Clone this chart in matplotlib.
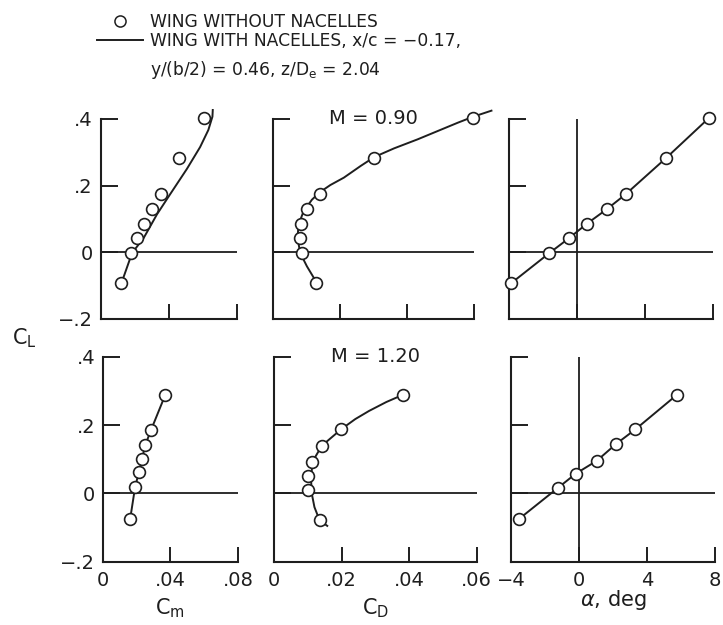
import matplotlib
matplotlib.use("Agg")
import matplotlib.pyplot as plt
from matplotlib.lines import Line2D

plt.rcParams['font.family'] = ['DejaVu Sans']
plt.rcParams['mathtext.fontset'] = 'dejavusans'

# ---------------- data ----------------
# M = 0.90, wing without nacelles (circles)
m090_cm = [0.0121, 0.0181, 0.0214, 0.0257, 0.0302, 0.0352, 0.0461, 0.0604]
m090_cd = [0.0130, 0.0087, 0.0080, 0.0084, 0.0103, 0.0140, 0.0303, 0.0598]
m090_alpha = [-3.9, -1.66, -0.47, 0.55, 1.76, 2.85, 5.26, 7.76]
m090_cl = [-0.093, -0.003, 0.043, 0.085, 0.130, 0.174, 0.284, 0.403]

# M = 0.90, wing with nacelles (faired curves)
m090_line_cm = [0.0121, 0.0185, 0.0253, 0.0331, 0.0409, 0.0506, 0.0584, 0.0632, 0.0656, 0.0658]
m090_line_cl_m = [-0.095, -0.002, 0.043, 0.114, 0.175, 0.250, 0.316, 0.367, 0.407, 0.427]
m090_line_cd = [0.0130, 0.0102, 0.0082, 0.0074, 0.0077, 0.0092, 0.0117, 0.0140, 0.0172,
                0.0212, 0.0262, 0.0303, 0.0362, 0.0432, 0.0492, 0.0552, 0.0598, 0.0652]
m090_line_cl_d = [-0.089, -0.042, -0.002, 0.043, 0.083, 0.123, 0.158, 0.180, 0.202,
                  0.224, 0.259, 0.286, 0.312, 0.339, 0.364, 0.389, 0.407, 0.425]

# M = 1.20, wing without nacelles (circles)
m120_cm = [0.0162, 0.0192, 0.0214, 0.0232, 0.0251, 0.0285, 0.0370]
m120_cl_m = [-0.076, 0.020, 0.062, 0.100, 0.141, 0.185, 0.289]
m120_cd = [0.0134, 0.0099, 0.0099, 0.0113, 0.0141, 0.0198, 0.0383]
m120_cl_d = [-0.078, 0.010, 0.052, 0.093, 0.140, 0.188, 0.290]
m120_alpha = [-3.51, -1.25, -0.19, 1.05, 2.18, 3.32, 5.78]
m120_cl_a = [-0.074, 0.016, 0.058, 0.096, 0.145, 0.188, 0.290]

# M = 1.20, wing with nacelles (faired curves)
m120_line_cm = [0.0162, 0.0192, 0.0214, 0.0232, 0.0251, 0.0285, 0.0370]
m120_line_cl_m = [-0.076, 0.020, 0.062, 0.100, 0.141, 0.185, 0.289]
m120_line_cd = [0.0157, 0.0134, 0.0119, 0.0111, 0.0109, 0.0113, 0.0141, 0.0198,
                0.0240, 0.0281, 0.0332, 0.0383]
m120_line_cl_d = [-0.095, -0.078, -0.040, 0.000, 0.040, 0.093, 0.140, 0.188,
                  0.218, 0.242, 0.268, 0.290]
m120_line_alpha = [-3.51, -1.25, -0.19, 1.05, 2.18, 3.32, 5.78]
m120_line_cl_a = [-0.074, 0.016, 0.058, 0.096, 0.145, 0.188, 0.290]

# tick labels
cl_ticks = [-0.2, 0.0, 0.2, 0.4]
cl_labels = ['\u2212.2', '0', '.2', '.4']
cm_ticks = [0.0, 0.04, 0.08]
cm_labels = ['0', '.04', '.08']
cd_ticks = [0.0, 0.02, 0.04, 0.06]
cd_labels = ['0', '.02', '.04', '.06']
alpha_ticks = [-4, 0, 4, 8]
alpha_labels = ['\u22124', '0', '4', '8']

mach_labels = ['M = 0.90', 'M = 1.20']

# ---------------- figure ----------------
W, H = 723, 625
fig = plt.figure(figsize=(W / 100, H / 100), dpi=100)
fig.patch.set_facecolor('white')

INK = '#1e1e1e'


def px_axes(x0, x1, ytop, ybot):
    return fig.add_axes([x0 / W, 1 - ybot / H, (x1 - x0) / W, (ybot - ytop) / H])


rows = [
    dict(ytop=119, ybot=319, cols=[(100.5, 237), (272.7, 474), (509.3, 713)]),
    dict(ytop=357, ybot=561.7, cols=[(102.7, 238), (274.3, 476.7), (511, 715)]),
]

xlims = [(0, 0.08), (0, 0.06), (-4, 8)]
xticks = [cm_ticks, cd_ticks, alpha_ticks]
xticklabels = [cm_labels, cd_labels, alpha_labels]
xlabels = ['C$_\\mathregular{m}$', 'C$_\\mathregular{D}$', '$\\alpha$, deg']
xlabelpads = [4, 4, -2]

pts = [
    [(m090_cm, m090_cl), (m090_cd, m090_cl), (m090_alpha, m090_cl)],
    [(m120_cm, m120_cl_m), (m120_cd, m120_cl_d), (m120_alpha, m120_cl_a)],
]
lines = [
    [(m090_line_cm, m090_line_cl_m), (m090_line_cd, m090_line_cl_d), (m090_alpha, m090_cl)],
    [(m120_line_cm, m120_line_cl_m), (m120_line_cd, m120_line_cl_d), (m120_line_alpha, m120_line_cl_a)],
]

for r, row in enumerate(rows):
    for c, (x0, x1) in enumerate(row['cols']):
        ax = px_axes(x0, x1, row['ytop'], row['ybot'])
        ax.set_facecolor('none')
        ax.set_xlim(*xlims[c])
        ax.set_ylim(-0.2, 0.4)
        for s in ['top', 'right']:
            ax.spines[s].set_visible(False)
        for s in ['left', 'bottom']:
            ax.spines[s].set_linewidth(1.5)
            ax.spines[s].set_color(INK)
        ax.set_yticks(cl_ticks)
        ax.set_xticks(xticks[c])
        ax.tick_params(axis='y', direction='in', length=12, width=1.4, color=INK,
                       pad=5.5, labelsize=14, labelcolor=INK)
        ax.tick_params(axis='x', direction='in', length=11, width=1.4, color=INK,
                       pad=7, labelsize=14, labelcolor=INK)
        if c == 0:
            ax.set_yticklabels(cl_labels)
        else:
            ax.set_yticklabels([])
        if r == 1:
            ax.set_xticklabels(xticklabels[c])
            ax.set_xlabel(xlabels[c], fontsize=15, color=INK, labelpad=xlabelpads[c])
        else:
            ax.set_xticklabels([])
        ax.axhline(0, color=INK, lw=1.3, zorder=1)
        if c == 2:
            ax.axvline(0, color=INK, lw=1.3, zorder=1)
        lx, ly = lines[r][c]
        ax.plot(lx, ly, '-', color=INK, lw=1.4, zorder=2, clip_on=False,
                solid_joinstyle='round')
        px, py = pts[r][c]
        ax.plot(px, py, 'o', ms=8.5, mfc='white', mec=INK, mew=1.2, ls='none',
                zorder=3, clip_on=False)
        if c == 1:
            ax.text(0.5, 1.0, mach_labels[r], transform=ax.transAxes, ha='center',
                    va='center', fontsize=14, color=INK)

# C_L axis label
fig.text(24 / W, 1 - 338 / H, 'C$_\\mathregular{L}$', ha='center', va='center',
         fontsize=15, color=INK)

# legend
h1 = Line2D([], [], marker='o', ls='none', ms=8, mfc='white', mec=INK, mew=1.1)
h2 = Line2D([], [], color=INK, lw=1.4)
leg = fig.legend([h1, h2],
                 ['WING WITHOUT NACELLES', 'WING WITH NACELLES, x/c = \u22120.17,'],
                 loc='upper left', bbox_to_anchor=(97 / W, 1 - 13 / H),
                 frameon=False, fontsize=12.3, handlelength=2.7, handletextpad=0.4,
                 labelspacing=0.05, borderpad=0, borderaxespad=0, labelcolor=INK)
fig.text(150 / W, 1 - 70 / H, 'y/(b/2) = 0.46, z/D$_\\mathregular{e}$ = 2.04',
         ha='left', va='center', fontsize=12.3, color=INK)

fig.savefig('out.png', dpi=100, facecolor='white')
